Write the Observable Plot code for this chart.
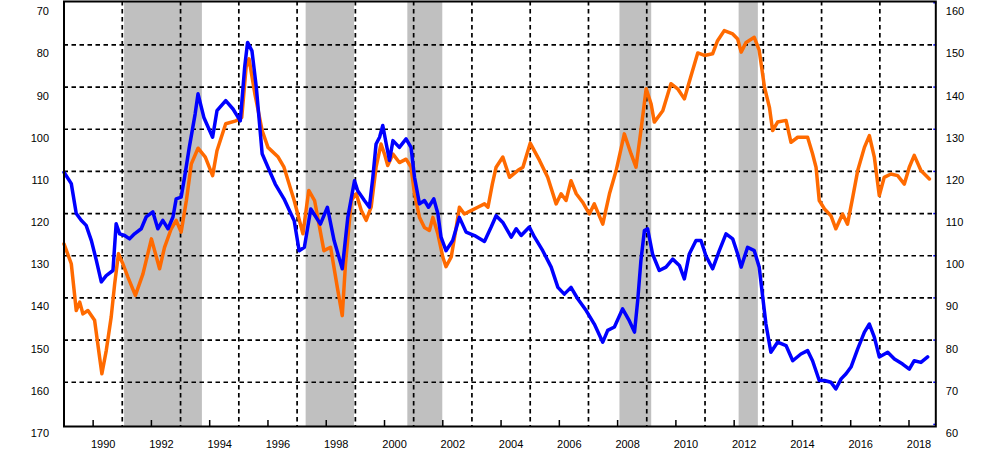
<!DOCTYPE html>
<html><head><meta charset="utf-8">
<script src="https://cdn.jsdelivr.net/npm/d3@7"></script>
<script src="https://cdn.jsdelivr.net/npm/@observablehq/plot@0.6"></script>
<style>html,body{margin:0;padding:0;background:#fff;overflow:hidden}</style>
</head><body><div id="chart"></div>
<script>
// Orange series (left axis, inverted: 70 top .. 170 bottom)
const orangeYears = [1989.0,1989.25,1989.42,1989.54,1989.65,1989.82,1990.05,1990.22,1990.3,1990.45,1990.62,1990.74,1990.87,1991.02,1991.19,1991.45,1991.71,1992.0,1992.17,1992.28,1992.45,1992.68,1992.85,1993.02,1993.2,1993.37,1993.6,1993.85,1994.1,1994.25,1994.55,1994.9,1995.1,1995.25,1995.35,1995.55,1995.8,1996.0,1996.35,1996.55,1996.9,1997.2,1997.4,1997.6,1997.92,1998.15,1998.38,1998.55,1998.66,1998.86,1999.03,1999.2,1999.37,1999.54,1999.71,1999.88,2000.0,2000.11,2000.29,2000.51,2000.74,2000.91,2001.03,2001.2,2001.37,2001.54,2001.66,2001.83,2002.0,2002.11,2002.29,2002.46,2002.57,2002.74,2002.97,2003.2,2003.43,2003.55,2003.7,2003.83,2004.06,2004.29,2004.57,2004.75,2005.0,2005.32,2005.6,2005.89,2006.06,2006.23,2006.4,2006.58,2006.8,2007.03,2007.2,2007.49,2007.72,2007.95,2008.23,2008.46,2008.63,2008.8,2008.98,2009.15,2009.26,2009.55,2009.83,2010.06,2010.29,2010.52,2010.75,2010.98,2011.26,2011.43,2011.66,2011.95,2012.12,2012.24,2012.41,2012.69,2012.86,2013.04,2013.21,2013.32,2013.49,2013.78,2013.95,2014.18,2014.52,2014.69,2014.81,2014.92,2015.1,2015.32,2015.49,2015.72,2015.89,2016.07,2016.24,2016.47,2016.64,2016.81,2016.98,2017.15,2017.38,2017.61,2017.84,2018.01,2018.18,2018.41,2018.7];
const orangeValues = [127.2,131.9,143,141,143.8,143,145.3,154,158,152.5,144.5,136.6,129.5,131.9,135,139.4,134.3,126,130.3,133.1,128,123.6,121.6,124.4,116.9,108.2,104.5,106.6,111,105.1,98.7,98,97.2,85.3,83.3,91.6,100.3,104.3,106.6,109,116.9,124.8,114.5,116.9,128.8,128,137.5,144.2,132,116.9,115.3,119.2,121.6,118.5,109,103.5,105.9,108.6,105.9,107.9,107.1,109,115.3,120.9,123.3,124,120.9,124.8,130.3,132.6,130.3,123.3,118.5,120.1,119.3,118.5,117.7,118.5,113,109,106.6,111.4,109.8,109,103.3,107.4,111.4,117.7,115.3,116.9,112.2,115.3,117.3,120.1,117.7,122.5,115.3,109.8,101.1,105.8,109,100.3,90.4,94,98.3,95.6,89.2,90.4,92.8,87.3,81.9,82.5,82.1,79,76.6,77.4,78.6,81.7,79.4,78.2,81.3,90,94.8,100.3,98.3,97.9,103.1,101.9,101.9,105.8,109,116.9,118.9,120.5,123.6,120.1,122.5,116.1,109.8,104.3,101.5,106.6,115.7,111.4,110.6,111,113,109,106.2,109.8,111.8];

// Blue series (right axis: 60 bottom .. 160 top)
const blueYears = [1989.0,1989.25,1989.42,1989.59,1989.76,1989.94,1990.11,1990.28,1990.45,1990.68,1990.79,1990.91,1991.08,1991.25,1991.42,1991.65,1991.82,1992.05,1992.22,1992.39,1992.57,1992.74,1992.85,1993.02,1993.14,1993.3,1993.5,1993.6,1993.8,1994.1,1994.25,1994.55,1994.8,1995.05,1995.2,1995.3,1995.45,1995.6,1995.8,1996.0,1996.25,1996.55,1996.9,1997.07,1997.25,1997.47,1997.8,1998.04,1998.27,1998.55,1998.74,1998.97,1999.08,1999.31,1999.48,1999.6,1999.71,1999.83,1999.94,2000.06,2000.17,2000.29,2000.51,2000.74,2000.91,2001.03,2001.2,2001.37,2001.51,2001.69,2001.83,2001.94,2002.11,2002.34,2002.57,2002.8,2003.09,2003.43,2003.66,2003.83,2004.06,2004.35,2004.52,2004.69,2004.97,2005.15,2005.43,2005.72,2005.95,2006.17,2006.4,2006.63,2006.92,2007.2,2007.49,2007.66,2007.89,2008.17,2008.4,2008.58,2008.69,2008.8,2008.92,2009.03,2009.2,2009.43,2009.66,2009.89,2010.12,2010.29,2010.46,2010.69,2010.86,2011.03,2011.26,2011.49,2011.72,2011.95,2012.12,2012.24,2012.46,2012.69,2012.86,2012.98,2013.09,2013.26,2013.49,2013.78,2014.01,2014.29,2014.52,2014.69,2014.92,2015.1,2015.32,2015.49,2015.67,2015.84,2016.01,2016.24,2016.47,2016.64,2016.81,2016.98,2017.27,2017.5,2017.78,2018.01,2018.18,2018.41,2018.64];
const blueValues = [119.8,117.1,110,108.4,107.2,103.6,98.9,93.8,95.3,96.5,107.6,105.2,104.8,104,105.2,106.4,109.2,110.4,106.4,108.4,106.4,109.2,113.5,113.9,118.7,125.7,133.6,138.4,132.8,128.1,134.4,136.8,134.8,132,144.7,150.6,148.6,140,124.2,121,117,113.5,108.3,101.2,102,111.1,107.5,111.5,103.6,96.9,109.1,117.8,115.4,113.1,111.5,118.6,126.5,128.1,130.9,126.5,122.6,127.3,125.7,127.7,125.7,118.6,112.3,113.1,111.5,113.5,110,104.4,101.2,103.6,109.1,105.6,104.8,103.4,106.8,109.5,107.9,104.4,106.4,104.8,106.8,104.4,101.2,97.3,92.5,90.9,92.5,89.8,87,83.8,79.5,82.3,83.1,87.4,84.6,81.9,89.4,98.9,106,106.4,100.4,96.5,97.3,99.2,97.7,94.5,100.4,103.6,103.6,100,96.9,101.2,105.2,104,100.4,97.3,102,101.2,97.3,90.2,83.8,77.1,79.5,78.7,75.1,76.7,77.5,75.1,70.4,70.4,70,68.4,70.8,72,73.6,77.9,81.9,83.8,80.7,76,77.1,75.5,74.3,73.1,75.1,74.7,76];

// Shaded periods (recessions)
const recessionStarts = [1991.08, 1997.31, 2000.8, 2008.08, 2012.17];
const recessionEnds   = [1993.75, 1998.97, 2002.0, 2009.17, 2012.83];

// Axis ticks
const yearLabels = [1990,1992,1994,1996,1998,2000,2002,2004,2006,2008,2010,2012,2014,2016,2018];
const gridYears = [1991,1993,1995,1997,1999,2001,2003,2005,2007,2009,2011,2013,2015,2017];
const leftTicks = [70,80,90,100,110,120,130,140,150,160,170];
const rightTicks = [60,70,80,90,100,110,120,130,140,150,160];
const gridValues = [70,80,90,100,110,120,130,140,150];

// left axis value L corresponds to right axis value (230 - L)
const toRight = L => 230 - L;
const orange = orangeYears.map((t, i) => ({t, v: toRight(orangeValues[i])}));
const blue = blueYears.map((t, i) => ({t, v: blueValues[i]}));
const recessions = recessionStarts.map((s, i) => ({start: s, end: recessionEnds[i]}));

const dash = {stroke: "#000", strokeOpacity: 1, strokeWidth: 1.7, strokeDasharray: "4.5,3.5"};

const chart = Plot.plot({
  width: 1000, height: 469,
  marginLeft: 63.5, marginRight: 64.7, marginTop: 1, marginBottom: 43,
  style: {fontFamily: "'Liberation Sans', Arial, sans-serif", fontSize: "11px", color: "#000", background: "#fff"},
  x: {type: "linear", domain: [1989, 2018.92]},
  y: {type: "linear", domain: [59.5, 160.3]},
  marks: [
    Plot.rect(recessions, {x1: "start", x2: "end", fill: "#c0c0c0"}),
    Plot.gridX(gridYears, dash),
    Plot.gridY(gridValues, dash),
    Plot.axisX(yearLabels, {anchor: "bottom", tickSize: 6, dy: -6, fill: "none", stroke: "#000", strokeWidth: 1.5}),
    Plot.axisX(yearLabels, {anchor: "bottom", tickSize: 0, tickPadding: 14, dx: 10, tickFormat: d => String(d), label: null}),
    Plot.axisY(leftTicks.map(toRight), {anchor: "left", tickSize: 0, tickPadding: 15, dy: 9, tickFormat: d => String(230 - d), label: null}),
    Plot.axisY(rightTicks, {anchor: "right", tickSize: 0, tickPadding: 10, dy: 9, tickFormat: d => String(d), label: null}),
    Plot.axisY(rightTicks, {anchor: "right", tickSize: 3, dx: -3, fill: "none", stroke: "#0000ff", strokeWidth: 1.5}),
    Plot.line(orange, {x: "t", y: "v", stroke: "#ff6a00", strokeWidth: 3.5, strokeLinejoin: "round"}),
    Plot.line(blue, {x: "t", y: "v", stroke: "#0000ff", strokeWidth: 3.5, strokeLinejoin: "round"}),
    Plot.frame({stroke: "#000", strokeWidth: 2})
  ]
});
document.getElementById("chart").appendChild(chart);
</script>
</body></html>
